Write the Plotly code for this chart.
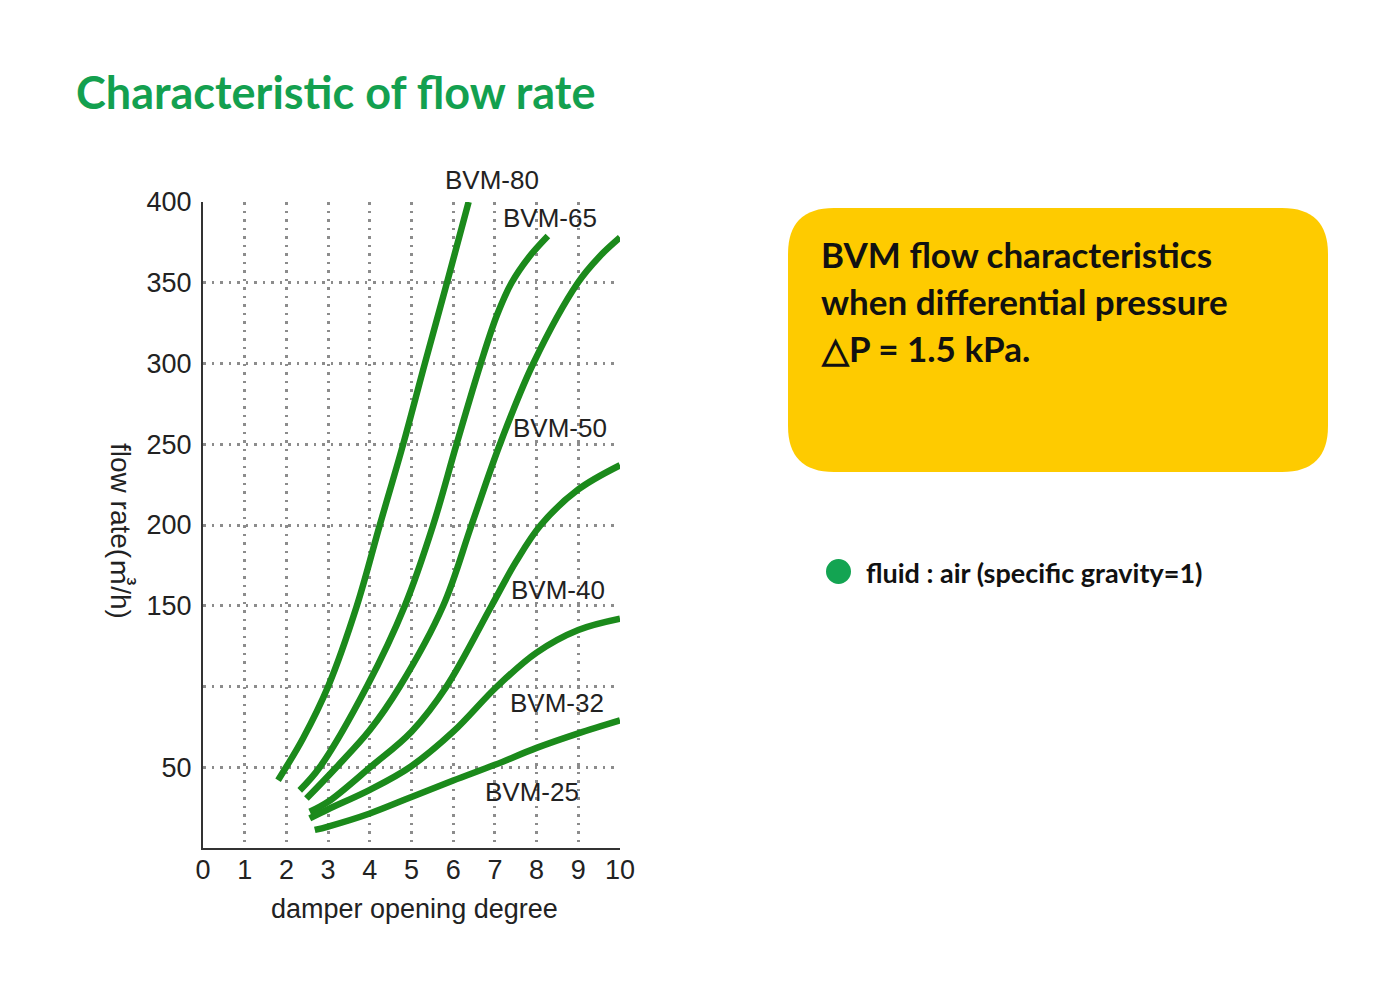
import plotly.graph_objects as go

# ---- data ----
x_ticks = [0, 1, 2, 3, 4, 5, 6, 7, 8, 9, 10]
y_ticks = [50, 100, 150, 200, 250, 300, 350, 400]
y_ticktext = ["50", "", "150", "200", "250", "300", "350", "400"]

x_bvm80 = [1.80, 2.4, 3.0, 3.69, 4.24, 4.80, 5.32, 5.85, 6.37]
y_bvm80 = [42, 68, 100, 150, 200, 250, 300, 350, 400]

x_bvm65 = [2.32, 2.80, 3.93, 4.84, 5.52, 6.08, 6.66, 7.05, 7.4, 7.82, 8.27]
y_bvm65 = [35.7, 50, 100, 150, 200, 250, 300, 330, 350, 366, 379]

x_bvm50 = [2.48, 3.2, 4.0, 4.72, 5.76, 6.44, 7.12, 7.92, 8.99, 9.5, 10.0]
y_bvm50 = [30.6, 50, 73, 100, 150, 200, 250, 300, 350, 366, 378]

x_bvm40 = [2.56, 3.0, 4.01, 5.0, 5.84, 6.92, 7.5, 8.1, 9.0, 10.0]
y_bvm40 = [22.4, 28.6, 50, 72, 100, 150, 177, 200, 222, 237]

x_bvm32 = [2.56, 3.0, 4.0, 4.96, 6.0, 7.05, 8.0, 9.0, 10.0]
y_bvm32 = [18.4, 24, 36, 50, 72, 100, 121, 135, 142]

x_bvm25 = [2.68, 3.0, 4.0, 5.0, 6.0, 7.0, 8.0, 9.0, 10.0]
y_bvm25 = [11.2, 13.3, 21.4, 31.6, 41.8, 51.5, 62, 71, 79]

series_names = ["BVM-80", "BVM-65", "BVM-50", "BVM-40", "BVM-32", "BVM-25"]
series_x = [x_bvm80, x_bvm65, x_bvm50, x_bvm40, x_bvm32, x_bvm25]
series_y = [y_bvm80, y_bvm65, y_bvm50, y_bvm40, y_bvm32, y_bvm25]

# ---- figure ----
W, H = 1393, 982
LINE_GREEN = "#1b8a1b"
TITLE_GREEN = "#13a04f"
TEXT = "#222222"
AX_FONT = "Liberation Sans, Arial, Noto Sans CJK JP, sans-serif"
GEO_FONT = "Lato, Noto Sans, sans-serif"

fig = go.Figure()
for name, xs, ys in zip(series_names, series_x, series_y):
    fig.add_trace(go.Scatter(
        x=xs, y=ys, mode="lines", name=name,
        line=dict(color=LINE_GREEN, width=6.5, shape="spline", smoothing=1.0),
        cliponaxis=False, showlegend=False, hoverinfo="skip",
    ))

def px_x(p):
    return p / W

def px_y(p):
    return 1 - p / H

grid = dict(showgrid=True, gridcolor="#8c8c8c", gridwidth=2.5, griddash="2.5px,6px")

fig.update_layout(
    width=W, height=H,
    margin=dict(l=0, r=0, t=0, b=0),
    paper_bgcolor="white", plot_bgcolor="white",
    xaxis=dict(
        domain=[px_x(203), px_x(620)], range=[0, 10], automargin=False,
        tickvals=x_ticks, ticktext=[str(v) for v in x_ticks],
        showline=True, linecolor="#333333", linewidth=2,
        zeroline=False, ticks="", ticklabelstandoff=-3,
        tickfont=dict(family=AX_FONT, size=27, color=TEXT),
        fixedrange=True, **grid,
    ),
    yaxis=dict(
        domain=[px_y(848), px_y(202)], range=[0, 400], automargin=False,
        tickvals=y_ticks, ticktext=y_ticktext,
        showline=True, linecolor="#333333", linewidth=2,
        zeroline=False, ticks="", ticklabelstandoff=4,
        tickfont=dict(family=AX_FONT, size=27, color=TEXT),
        fixedrange=True, **grid,
    ),
)

# curve labels (pixel positions on the page)
label_px = {
    "BVM-80": (492, 180),
    "BVM-65": (550, 218),
    "BVM-50": (560, 428),
    "BVM-40": (558, 590),
    "BVM-32": (557, 703),
    "BVM-25": (532, 792),
}
for name in series_names:
    lx, ly = label_px[name]
    fig.add_annotation(x=px_x(lx), y=px_y(ly), xref="paper", yref="paper", text=name,
                       showarrow=False, font=dict(family=AX_FONT, size=26, color=TEXT),
                       xanchor="center", yanchor="middle")

# axis titles
fig.add_annotation(x=px_x(414), y=px_y(909), xref="paper", yref="paper",
                   text="damper opening degree", showarrow=False,
                   font=dict(family=AX_FONT, size=27, color=TEXT),
                   xanchor="center", yanchor="middle")
fig.add_annotation(x=px_x(121), y=px_y(531), xref="paper", yref="paper",
                   text="flow rate(㎥/h)", showarrow=False, textangle=90,
                   font=dict(family=AX_FONT, size=28, color=TEXT),
                   xanchor="center", yanchor="middle")

# page title
fig.add_annotation(x=px_x(74), y=px_y(92), xref="paper", yref="paper",
                   text="<b>Characteristic of flow rate</b>", showarrow=False,
                   font=dict(family=GEO_FONT, size=45, color=TITLE_GREEN),
                   xanchor="left", yanchor="middle")

# yellow rounded box
x0, x1, y0, y1, r = 788, 1328, 208, 472, 46
def P(x, y):
    return f"{px_x(x):.5f},{px_y(y):.5f}"
path = (f"M {P(x0 + r, y0)} L {P(x1 - r, y0)} Q {P(x1, y0)} {P(x1, y0 + r)} "
        f"L {P(x1, y1 - r)} Q {P(x1, y1)} {P(x1 - r, y1)} "
        f"L {P(x0 + r, y1)} Q {P(x0, y1)} {P(x0, y1 - r)} "
        f"L {P(x0, y0 + r)} Q {P(x0, y0)} {P(x0 + r, y0)} Z")
fig.add_shape(type="path", path=path, xref="paper", yref="paper",
              fillcolor="#fecb00", line=dict(width=0), layer="below")

box_lines = ["BVM flow characteristics", "when differential pressure", "△P = 1.5 kPa."]
box_line_y = [254, 301, 348]
for t, ly in zip(box_lines, box_line_y):
    fig.add_annotation(x=px_x(819), y=px_y(ly), xref="paper", yref="paper",
                       text=f"<b>{t}</b>", showarrow=False,
                       font=dict(family=GEO_FONT, size=35, color="#111111"),
                       xanchor="left", yanchor="middle")

# fluid note with green dot
fig.add_shape(type="circle", xref="paper", yref="paper",
              x0=px_x(826), x1=px_x(851), y0=px_y(559), y1=px_y(584),
              fillcolor="#13a452", line=dict(width=0))
fig.add_annotation(x=px_x(864), y=px_y(572), xref="paper", yref="paper",
                   text="<b>fluid : air (specific gravity=1)</b>", showarrow=False,
                   font=dict(family=GEO_FONT, size=27, color="#111111"),
                   xanchor="left", yanchor="middle")

fig.write_html(
    "out.html",
    config={"displayModeBar": False},
    post_script="document.body.style.margin='0px';document.body.style.overflow='hidden';",
)
